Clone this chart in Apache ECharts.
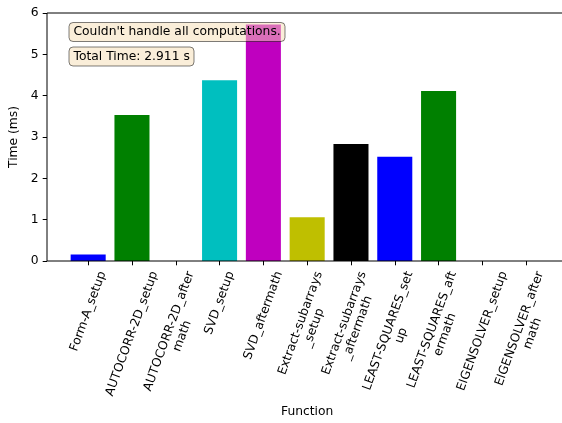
<!DOCTYPE html>
<html>
<head>
<meta charset="utf-8">
<script src="https://cdn.jsdelivr.net/npm/echarts@6/dist/echarts.min.js"></script>
<style>
  html, body { margin: 0; padding: 0; background: #fff; }
  #chart { width: 562px; height: 423px; }
</style>
</head>
<body>
<div id="chart"></div>
<script>
// Per-function timings (ms)
const categories = [
  'Form-A_setup',
  'AUTOCORR-2D_setup',
  'AUTOCORR-2D_after\nmath',
  'SVD_setup',
  'SVD_aftermath',
  'Extract-subarrays\n_setup',
  'Extract-subarrays\n_aftermath',
  'LEAST-SQUARES_set\nup',
  'LEAST-SQUARES_aft\nermath',
  'EIGENSOLVER_setup',
  'EIGENSOLVER_after\nmath'
];
const timesMs = [0.16, 3.53, 0, 4.37, 5.72, 1.06, 2.83, 2.52, 4.11, 0, 0];
const yTicks = [0, 1, 2, 3, 4, 5, 6];
const notes = ["Couldn't handle all computations.", 'Total Time: 2.911 s'];

// Styling
const barColors = ['#0000ff', '#008000', '#00bfbf', '#00bfbf', '#bf00bf', '#bfbf00',
                   '#000000', '#0000ff', '#008000', '#00bfbf', '#bf00bf'];
const FONT = 'DejaVu Sans';
const FONT_SIZE = 12.3;
const LINE_H = 14;
const FONT_CSS = FONT_SIZE + 'px "' + FONT + '"';

// Layout: axes frame spans x in [-0.94, 10.94] category units
const frameLeft = 47, plotTop = 13, plotBottom = 162;
const band = 43.8;
const catLeft = frameLeft + 0.44 * band;
const catRight = 562 - (catLeft + categories.length * band);
const frameRight = 562 - (frameLeft + 11.88 * band);
const TICK_LEN = 4.3, LABEL_PAD = 4.2;

// Rotated tick labels: bounding box centred under its tick, top edge just below the tick
const ROT = 70 * Math.PI / 180;
const ctx = document.createElement('canvas').getContext('2d');
ctx.font = FONT_CSS;
function rotatedBoxHeight(text) {
  const lines = text.split('\n');
  const L = Math.max(...lines.map(s => ctx.measureText(s).width));
  const h = lines.length * LINE_H;
  return L * Math.sin(ROT) + h * Math.cos(ROT);
}

const chart = echarts.init(document.getElementById('chart'), null, { renderer: 'canvas' });

const noteStyle = {
  fontSize: FONT_SIZE, fontWeight: 'normal', color: '#000', fontFamily: FONT, lineHeight: LINE_H
};
const noteBox = {
  padding: [3, 4.5, 3, 4.5],
  backgroundColor: 'rgba(245,222,179,0.5)',
  borderColor: 'rgba(0,0,0,0.5)', borderWidth: 1, borderRadius: 4,
  textStyle: noteStyle, z: 10
};

chart.setOption({
  animation: false,
  textStyle: { fontFamily: FONT },
  title: [
    Object.assign({ text: notes[0], left: 69, top: 22 }, noteBox),
    Object.assign({ text: notes[1], left: 69, top: 46.5 }, noteBox)
  ],
  grid: [
    // axes frame
    { left: frameLeft, right: frameRight, top: plotTop, bottom: plotBottom,
      outerBoundsMode: 'none', containLabel: false,
      show: true, borderColor: '#000', borderWidth: 1, backgroundColor: 'transparent', z: 3 },
    // category bands
    { left: catLeft, right: catRight, top: plotTop, bottom: plotBottom,
      outerBoundsMode: 'none', containLabel: false }
  ],
  xAxis: [
    {
      gridIndex: 0, type: 'value', min: 0, max: 1,
      axisLine: { show: false }, axisTick: { show: false },
      axisLabel: { show: false }, splitLine: { show: false },
      name: 'Function', nameLocation: 'middle', nameGap: 145,
      nameTextStyle: { fontSize: FONT_SIZE, color: '#000', fontFamily: FONT }
    },
    {
      gridIndex: 1, type: 'category',
      data: categories,
      boundaryGap: true,
      axisLine: { show: false },
      axisTick: { show: true, alignWithLabel: true, interval: 0, length: TICK_LEN,
                  lineStyle: { color: '#000', width: 1 } },
      axisLabel: { show: false },
      splitLine: { show: false }
    }
  ],
  yAxis: [
    {
      gridIndex: 0, type: 'value', min: 0, max: 1, show: false
    },
    {
      gridIndex: 1, type: 'value',
      min: yTicks[0], max: yTicks[yTicks.length - 1], interval: 1,
      offset: catLeft - frameLeft,
      axisLine: { show: false },
      axisTick: { show: true, length: TICK_LEN, lineStyle: { color: '#000', width: 1 } },
      axisLabel: { margin: TICK_LEN + LABEL_PAD, fontSize: FONT_SIZE, color: '#000', fontFamily: FONT },
      splitLine: { show: false },
      name: 'Time (ms)', nameLocation: 'middle', nameGap: 19,
      nameTextStyle: { fontSize: FONT_SIZE, color: '#000', fontFamily: FONT }
    }
  ],
  series: [
    {
      type: 'bar',
      xAxisIndex: 1, yAxisIndex: 1,
      barCategoryGap: '20%',
      data: timesMs.map((v, i) => ({ value: v, itemStyle: { color: barColors[i] } })),
      z: 2
    },
    {
      // category tick labels, rotated 70°
      type: 'custom',
      xAxisIndex: 1, yAxisIndex: 1,
      silent: true, clip: false,
      data: categories.map((c, i) => [i, 0]),
      renderItem: (params, api) => {
        const i = api.value(0);
        const p = api.coord([i, 0]);
        const text = categories[i];
        return {
          type: 'text',
          x: p[0],
          y: p[1] + TICK_LEN + LABEL_PAD + rotatedBoxHeight(text) / 2,
          rotation: ROT,
          style: {
            text: text, font: FONT_CSS, lineHeight: LINE_H,
            fill: '#000', align: 'center', verticalAlign: 'middle'
          }
        };
      },
      z: 4
    }
  ]
});
</script>
</body>
</html>
